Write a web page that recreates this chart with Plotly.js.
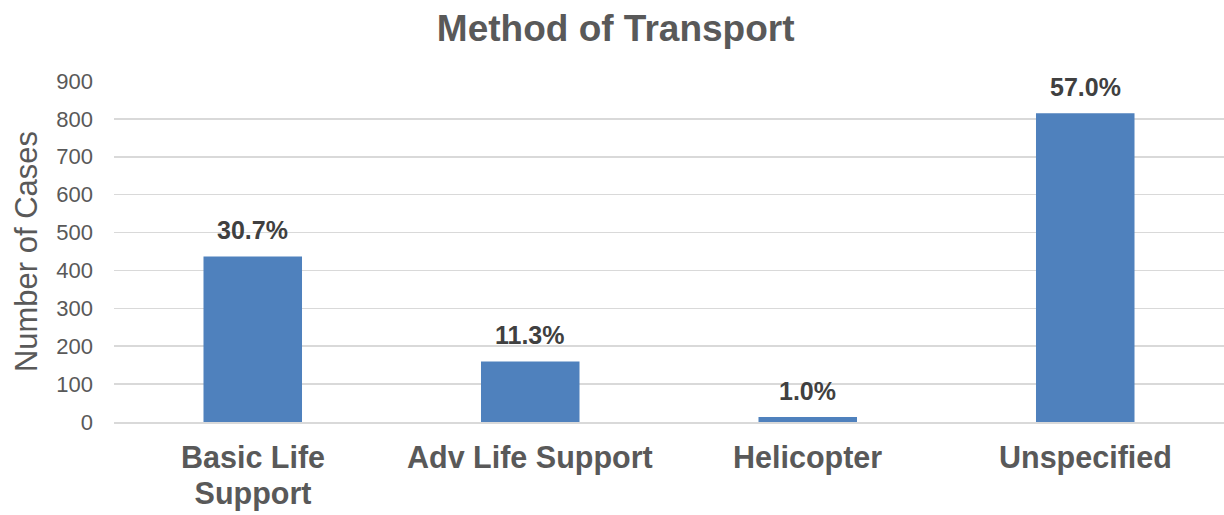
<!DOCTYPE html>
<html>
<head>
<meta charset="utf-8">
<script src="https://cdn.plot.ly/plotly-3.0.1.min.js"></script>
<style>html,body{margin:0;padding:0;background:#fff;}#chart{width:1224px;height:515px;}</style>
</head>
<body>
<div id="chart"></div>
<script>
const categories = ["Basic Life Support", "Adv Life Support", "Helicopter", "Unspecified"];
const categoryLines = [["Basic Life", "Support"], ["Adv Life Support"], ["Helicopter"], ["Unspecified"]];
const cases = [437, 160, 13, 815];
const percentLabels = ["30.7%", "11.3%", "1.0%", "57.0%"];
const yTicks = [0, 100, 200, 300, 400, 500, 600, 700, 800, 900];

const FONT = "Liberation Sans, Arial, sans-serif";

const trace = {
  type: "bar",
  x: categories,
  y: cases,
  marker: {color: "#4F81BD"},
  width: 0.355,
  hoverinfo: "none"
};

const annotations = categories.map((c, i) => ({
  x: c, y: cases[i], xref: "x", yref: "y",
  text: "<b>" + percentLabels[i] + "</b>",
  showarrow: false, yanchor: "bottom", yshift: 10,
  font: {family: FONT, size: 25, color: "#404040"}
}));

// base font size 27.7 gives a 36px line pitch; the glyphs are drawn at 30.5px
categoryLines.forEach((lines, i) => {
  annotations.push({
    x: categories[i], y: 0, xref: "x", yref: "paper",
    text: lines.map(l => "<span style='font-size:30.5px'><b>" + l + "</b></span>").join("<br>"),
    showarrow: false, yanchor: "top", xanchor: "center", align: "center",
    yshift: -16,
    font: {family: FONT, size: 27.7, color: "#595959"}
  });
});

const layout = {
  width: 1224, height: 515,
  margin: {l: 114, r: 0, t: 81, b: 93},
  paper_bgcolor: "#fff", plot_bgcolor: "#fff",
  showlegend: false,
  title: {
    text: "<b>Method of Transport</b>",
    x: 0.503, xref: "container", xanchor: "center", y: 0.945, yanchor: "middle",
    font: {family: FONT, size: 37, color: "#595959"}
  },
  xaxis: {
    type: "category",
    showticklabels: false,
    showline: true, linecolor: "#D9D9D9", linewidth: 1.5,
    ticks: "", showgrid: false, zeroline: false
  },
  yaxis: {
    range: [0, 900],
    tickvals: yTicks,
    tickfont: {family: FONT, size: 22, color: "#595959"},
    gridcolor: "#D9D9D9", gridwidth: 1.5,
    zeroline: false, showline: false, ticks: "",
    ticklabelstandoff: 20,
    title: {
      text: "Number of Cases",
      font: {family: FONT, size: 31, color: "#595959"},
      standoff: 9
    }
  },
  annotations: annotations
};

Plotly.newPlot("chart", [trace], layout, {displayModeBar: false, staticPlot: true});
</script>
</body>
</html>
